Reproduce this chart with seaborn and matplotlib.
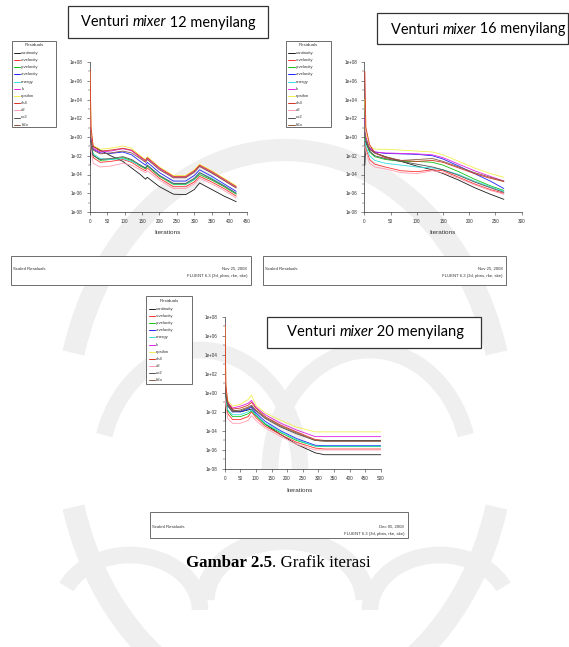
import numpy as np
import pandas as pd
import seaborn as sns
import matplotlib
matplotlib.use("Agg")
import matplotlib.pyplot as plt
from matplotlib.patches import Rectangle, Ellipse, Arc
from matplotlib.ticker import FixedLocator, NullFormatter

# ---------------- data ----------------
SERIES = ["continuity", "x-velocity", "y-velocity", "z-velocity", "energy", "k",
          "epsilon", "ch4", "o2", "co2", "h2o"]
COLORS = ["#1a1a1a", "#ff3030", "#10c010", "#2020ff", "#30e0e0", "#e020e0",
          "#f2ee50", "#d83020", "#ff9cb0", "#505050", "#8a5a40"]

# Venturi mixer 12 menyilang  (log10 of residual)
ITER_12 = [1, 4, 10, 30, 60, 95, 120, 145, 160, 165, 200, 240, 275, 300, 315, 350, 385, 420]
LOG_12 = [
    [-3.0, -0.3, -1.0, -1.4, -2.0, -2.6, -3.3, -4.0, -4.5, -4.3, -5.3, -6.1, -6.15, -5.6, -4.9, -5.6, -6.3, -6.9],   # continuity
    [0.2, -0.7, -2.2, -2.7, -2.6, -2.4, -2.7, -3.3, -3.6, -3.3, -4.4, -5.3, -5.3, -4.8, -4.2, -4.8, -5.5, -6.3],      # x-velocity
    [0.3, -0.6, -1.9, -2.5, -2.4, -2.2, -2.5, -3.1, -3.4, -3.1, -4.2, -5.05, -5.05, -4.55, -4.0, -4.6, -5.3, -6.1],   # y-velocity
    [0.5, -0.3, -1.3, -1.7, -1.75, -1.6, -1.9, -2.6, -3.0, -2.7, -3.8, -4.7, -4.7, -4.1, -3.5, -4.2, -5.0, -5.8],     # z-velocity
    [0.0, -0.8, -1.8, -2.3, -2.4, -2.3, -2.6, -3.0, -3.3, -3.0, -4.1, -5.0, -5.0, -4.5, -3.8, -4.4, -5.2, -6.0],      # energy
    [2.0, 0.0, -1.2, -1.6, -1.5, -1.25, -1.45, -2.2, -2.6, -2.3, -3.4, -4.3, -4.3, -3.7, -3.1, -3.8, -4.6, -5.4],     # k
    [7.0, 0.5, -0.9, -1.3, -1.2, -0.95, -1.2, -2.0, -2.4, -2.1, -3.2, -4.1, -4.1, -3.5, -2.9, -3.6, -4.4, -5.2],      # epsilon
    [7.2, 1.0, -1.0, -1.5, -1.4, -1.2, -1.4, -2.1, -2.5, -2.2, -3.3, -4.2, -4.2, -3.6, -3.0, -3.7, -4.5, -5.3],       # ch4
    [-0.5, -1.5, -2.8, -3.2, -3.1, -2.8, -3.0, -3.5, -3.8, -3.6, -4.6, -5.5, -5.5, -5.0, -4.4, -5.0, -5.7, -6.5],     # o2
    [0.0, -0.9, -2.0, -2.4, -2.3, -2.1, -2.4, -3.0, -3.3, -3.0, -4.1, -4.95, -4.95, -4.4, -3.8, -4.5, -5.2, -6.0],    # co2
    [1.0, -0.5, -1.4, -1.8, -1.7, -1.5, -1.7, -2.3, -2.7, -2.4, -3.5, -4.35, -4.35, -3.75, -3.15, -3.85, -4.65, -5.45],  # h2o
]

# Venturi mixer 16 menyilang
ITER_16 = [1, 3, 10, 20, 40, 70, 100, 130, 150, 180, 210, 240, 266]
LOG_16 = [
    [-3.0, -0.5, -1.3, -1.7, -2.1, -2.6, -3.1, -3.5, -3.9, -4.6, -5.4, -6.1, -6.65],  # continuity
    [-0.5, -1.2, -2.4, -2.9, -3.2, -3.6, -3.7, -3.5, -3.6, -4.3, -5.0, -5.6, -6.0],   # x-velocity
    [0.0, -0.6, -1.6, -2.1, -2.4, -2.6, -2.6, -2.7, -3.0, -3.7, -4.5, -5.2, -5.7],    # y-velocity
    [0.5, -0.2, -1.1, -1.6, -1.75, -1.8, -1.85, -2.0, -2.35, -3.1, -3.9, -4.7, -5.5], # z-velocity
    [-0.3, -1.0, -2.0, -2.5, -2.8, -3.0, -3.2, -3.3, -3.5, -4.0, -4.7, -5.3, -5.8],   # energy
    [2.0, 0.0, -1.2, -1.6, -1.7, -1.75, -1.8, -1.9, -2.2, -2.9, -3.6, -4.2, -4.7],    # k
    [4.0, 0.5, -1.0, -1.3, -1.3, -1.4, -1.5, -1.6, -1.9, -2.6, -3.3, -3.9, -4.3],     # epsilon
    [7.0, 1.0, -0.8, -1.7, -2.2, -2.5, -2.6, -2.5, -2.7, -3.3, -3.9, -4.4, -4.75],    # ch4
    [-1.0, -1.6, -2.8, -3.2, -3.4, -3.8, -3.9, -3.6, -3.8, -4.4, -5.1, -5.7, -6.1],   # o2
    [-0.5, -0.5, -1.5, -2.0, -2.3, -2.6, -2.9, -3.2, -3.5, -4.1, -4.8, -5.4, -5.9],   # co2
    [0.5, -0.3, -1.3, -1.7, -2.1, -2.5, -2.4, -2.3, -2.6, -3.2, -3.8, -4.3, -4.7],    # h2o
]

# Venturi mixer 20 menyilang
ITER_20 = [1, 4, 10, 25, 50, 75, 86, 100, 130, 180, 230, 290, 320, 400, 500]
LOG_20 = [
    [-3.0, -0.2, -1.0, -1.8, -2.0, -1.8, -1.7, -2.3, -3.3, -4.4, -5.4, -6.3, -6.5, -6.5, -6.5],   # continuity
    [0.0, -1.0, -2.2, -2.8, -2.8, -2.5, -2.0, -2.6, -3.5, -4.4, -5.2, -5.8, -5.9, -5.9, -5.9],    # x-velocity
    [0.2, -0.7, -1.9, -2.5, -2.5, -2.2, -1.9, -2.4, -3.3, -4.2, -5.0, -5.6, -5.65, -5.65, -5.65], # y-velocity
    [0.3, -0.3, -1.3, -2.0, -2.0, -1.7, -1.5, -2.1, -3.0, -4.0, -4.8, -5.5, -5.55, -5.55, -5.55], # z-velocity
    [0.0, -0.8, -1.8, -2.3, -2.3, -2.0, -1.8, -2.3, -3.2, -4.1, -4.9, -5.6, -5.6, -5.6, -5.6],    # energy
    [2.0, 0.0, -1.0, -1.6, -1.4, -1.1, -0.8, -1.5, -2.3, -3.2, -3.9, -4.6, -4.6, -4.6, -4.6],     # k
    [7.0, 0.5, -0.8, -1.4, -1.2, -0.7, -0.25, -1.3, -2.1, -2.9, -3.6, -4.1, -4.1, -4.1, -4.1],    # epsilon
    [7.2, 0.8, -1.1, -1.7, -1.6, -1.3, -1.0, -1.6, -2.5, -3.4, -4.1, -4.9, -5.0, -5.0, -5.0],     # ch4
    [-0.5, -1.5, -2.7, -3.2, -3.2, -2.9, -2.4, -2.9, -3.7, -4.6, -5.4, -6.0, -6.0, -6.0, -6.0],   # o2
    [0.5, -0.5, -1.4, -2.0, -1.9, -1.6, -1.4, -1.9, -2.7, -3.6, -4.3, -5.0, -5.0, -5.0, -5.0],    # co2
    [1.0, -0.3, -1.2, -1.9, -1.8, -1.5, -1.3, -1.8, -2.6, -3.5, -4.2, -5.0, -5.1, -5.1, -5.1],    # h2o
]

TITLES = ["12", "16", "20"]
DATES = ["Nov 25, 2008", "Nov 25, 2008", "Dec 05, 2008"]
FOOT_RIGHT = "FLUENT 6.3 (3d, pbns, rke, ske)"
YTICK_EXP = list(range(-8, 9, 2))

# ---------------- figure ----------------
W, H = 569, 647
sns.set_theme(style="white")
plt.rcParams["font.family"] = ["DejaVu Sans"]
fig = plt.figure(figsize=(W / 100, H / 100), dpi=100)
fig.patch.set_facecolor("white")

def frac(x0, y0, x1, y1):
    return [x0 / W, 1 - y1 / H, (x1 - x0) / W, (y1 - y0) / H]

# faint watermark layer (pixel coordinates)
bg = fig.add_axes([0, 0, 1, 1], zorder=0)
bg.set_xlim(0, W)
bg.set_ylim(H, 0)
bg.axis("off")
WM = "#efefef"
bg.add_patch(Arc((285, 430), 440, 560, theta1=200, theta2=340, lw=16, color=WM))
bg.add_patch(Arc((285, 430), 440, 560, theta1=20, theta2=160, lw=16, color=WM))
bg.add_patch(Arc((200, 470), 200, 240, theta1=200, theta2=360, lw=12, color=WM))
bg.add_patch(Arc((370, 470), 200, 240, theta1=180, theta2=340, lw=12, color=WM))
bg.add_patch(Arc((285, 600), 160, 120, theta1=180, theta2=360, lw=14, color=WM))
bg.add_patch(Arc((130, 610), 140, 110, theta1=200, theta2=360, lw=12, color=WM))
bg.add_patch(Arc((440, 610), 140, 110, theta1=180, theta2=340, lw=12, color=WM))

# overlay in pixel coordinates
ov = fig.add_axes([0, 0, 1, 1], zorder=5)
ov.set_xlim(0, W)
ov.set_ylim(H, 0)
ov.axis("off")
ov.patch.set_alpha(0)

SMALL = ["Liberation Sans Narrow", "Liberation Sans", "DejaVu Sans"]


def residual_plot(rect, iters, logs, xmax, xstep, label_xy):
    ax = fig.add_axes(frac(*rect), zorder=3)
    ax.patch.set_alpha(0)
    rows = []
    for name, vals in zip(SERIES, logs):
        for it, v in zip(iters, vals):
            rows.append((name, it, 10.0 ** v))
    df = pd.DataFrame(rows, columns=["series", "iter", "res"])
    sns.lineplot(data=df, x="iter", y="res", hue="series", hue_order=SERIES,
                 palette=dict(zip(SERIES, COLORS)), estimator=None, sort=False,
                 lw=0.6, legend=False, ax=ax, zorder=4)
    ax.set_yscale("log")
    ax.set_xlim(0, xmax)
    ax.set_ylim(1e-8, 1e8)
    ax.yaxis.set_major_locator(FixedLocator([10.0 ** k for k in YTICK_EXP]))
    ax.set_yticklabels([f"1e{k:+03d}" for k in YTICK_EXP])
    ax.yaxis.set_minor_locator(FixedLocator([10.0 ** k for k in range(-7, 8, 2)]))
    ax.yaxis.set_minor_formatter(NullFormatter())
    xt = list(range(0, xmax + 1, xstep))
    ax.set_xticks(xt)
    ax.set_xticklabels([str(t) for t in xt])
    ax.set_xlabel("")
    ax.set_ylabel("")
    for s in ["top", "right"]:
        ax.spines[s].set_visible(False)
    for s in ["left", "bottom"]:
        ax.spines[s].set_linewidth(0.5)
        ax.spines[s].set_color("#333333")
        ax.spines[s].set_zorder(1)
    ax.tick_params(axis="both", which="major", labelsize=3.3, length=2, width=0.4,
                   pad=3.2, colors="#333333", direction="out", left=True, bottom=True)
    ax.tick_params(axis="y", which="minor", length=1.2, width=0.3, left=True)
    for lab in ax.get_xticklabels() + ax.get_yticklabels():
        lab.set_family(SMALL)
    ov.text(label_xy[0], label_xy[1], "Iterations", ha="center", va="center",
            fontsize=4.6, family=SMALL, color="#333333")
    return ax


def legend_box(x0, y0, x1, y1, row0, step):
    ov.add_patch(Rectangle((x0, y0), x1 - x0, y1 - y0, fill=True, fc="white",
                           ec="#555555", lw=0.6))
    ov.text((x0 + x1) / 2, y0 + 4.8, "Residuals", ha="center", va="center",
            fontsize=3.2, family=SMALL, color="#333333")
    for i, (name, col) in enumerate(zip(SERIES, COLORS)):
        y = row0 + i * step
        ov.plot([x0 + 2.2, x0 + 8.8], [y, y], color=col, lw=0.7)
        ov.text(x0 + 9.6, y, name, ha="left", va="center", fontsize=3.1,
                family=SMALL, color="#333333")


def box(x0, y0, x1, y1, lw=0.8, ec="#333333"):
    ov.add_patch(Rectangle((x0, y0), x1 - x0, y1 - y0, fill=True, fc="white",
                           ec=ec, lw=lw))


renderer = fig.canvas.get_renderer()


def mixed_text(parts, x0, yc, target_w, family, size0=10):
    def place(size):
        arts = []
        x = x0
        for txt, style, weight in parts:
            t = ov.text(x, yc, txt, ha="left", va="center", fontsize=size,
                        style=style, weight=weight, family=family, color="black")
            bb = t.get_window_extent(renderer=renderer)
            x += bb.width
            arts.append(t)
        return arts, x - x0
    arts, w = place(size0)
    for a in arts:
        a.remove()
    size = size0 * target_w / w
    place(size)


def title_box(bx0, by0, bx1, by1, num, tx0, tw, ty):
    box(bx0, by0, bx1, by1, lw=0.9)
    mixed_text([("Venturi ", "normal", "normal"), ("mixer", "italic", "normal"),
                (" " + num + " menyilang", "normal", "normal")],
               tx0, ty, tw, ["Lato", "DejaVu Sans"])


def footer_box(x0, y0, x1, y1, date, yl, yd, yf):
    box(x0, y0, x1, y1, lw=0.6, ec="#555555")
    ov.text(x0 + 2.5, yl, "Scaled Residuals", ha="left", va="center", fontsize=3.1,
            family=SMALL, color="#333333")
    ov.text(x1 - 3.5, yd, date, ha="right", va="center", fontsize=3.1,
            family=SMALL, color="#333333")
    ov.text(x1 - 3.5, yf, FOOT_RIGHT, ha="right", va="center", fontsize=3.1,
            family=SMALL, color="#333333")


# plots
residual_plot((89.7, 62, 246.7, 212), ITER_12, LOG_12, 450, 50, (168, 233))
residual_plot((364.3, 62, 521.7, 212), ITER_16, LOG_16, 300, 50, (443, 233))
residual_plot((224.7, 316.7, 380.7, 469), ITER_20, LOG_20, 500, 50, (300, 491))

# legends
legend_box(11.7, 40.7, 56, 127, 52.7, 7.2)
legend_box(286, 40.7, 330.7, 127, 52.7, 7.2)
legend_box(146.5, 296, 191.7, 383.7, 309, 7.1)

# title boxes
title_box(67.7, 6, 267.7, 37.5, TITLES[0], 81, 174, 22.5)
title_box(377, 13, 568.5, 44, TITLES[1], 391, 174, 29.5)
title_box(267, 316.7, 480.7, 347.7, TITLES[2], 287, 176, 332.3)

# footers
footer_box(10.7, 256, 250.7, 284.7, DATES[0], 269.5, 268.5, 275.5)
footer_box(263, 256, 506.3, 284.7, DATES[1], 269.5, 268.5, 275.5)
footer_box(150, 511.7, 407.7, 538.3, DATES[2], 527, 527, 534)

# caption
mixed_text([("Gambar 2.5", "normal", "bold"), (". Grafik iterasi", "normal", "normal")],
           186, 563, 184, ["Liberation Serif", "DejaVu Serif"])

fig.savefig("out.png", dpi=100, facecolor="white")
